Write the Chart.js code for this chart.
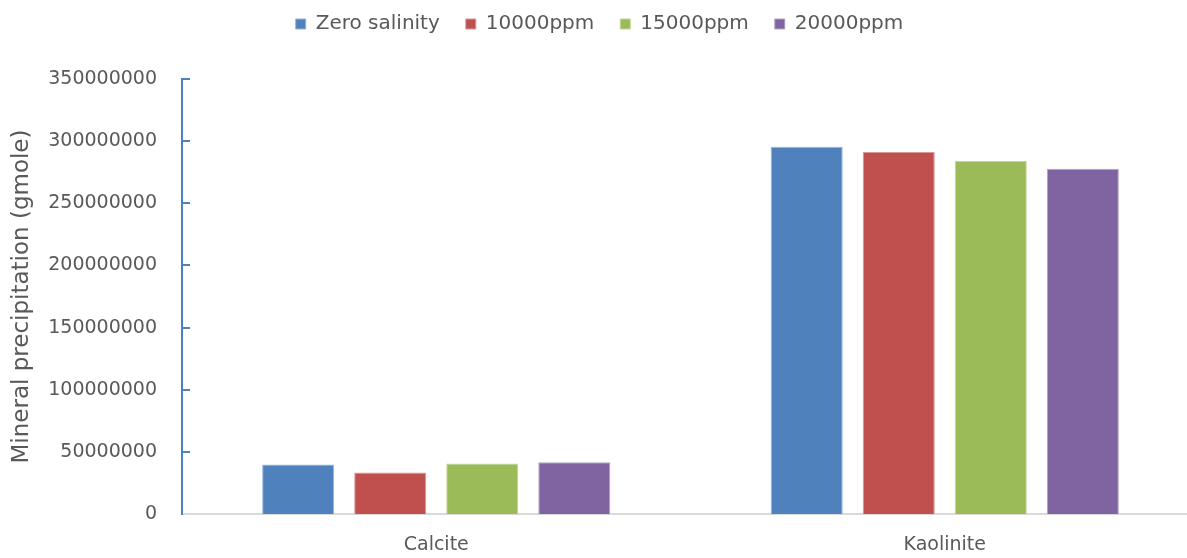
<!DOCTYPE html>
<html>
<head>
<meta charset="utf-8">
<script src="https://cdn.jsdelivr.net/npm/chart.js@4.4.1/dist/chart.umd.min.js"></script>
<style>
  html, body { margin: 0; padding: 0; overflow: hidden; background: #ffffff; }
  #wrap { width: 1200px; height: 558px; position: relative; }
</style>
</head>
<body>
<div id="wrap"><canvas id="c"></canvas></div>
<script>
// Minerals on the category axis
const categories = ['Calcite', 'Kaolinite'];

// Mineral precipitation (gmole) per salinity case
const zeroSalinity = [39800000, 295500000];
const ppm10000 = [33400000, 291300000];
const ppm15000 = [40600000, 284100000];
const ppm20000 = [41600000, 277700000];

const seriesNames = ['Zero salinity', '10000ppm', '15000ppm', '20000ppm'];
const seriesValues = [zeroSalinity, ppm10000, ppm15000, ppm20000];
const seriesFill = ['#4F81BD', '#C0504D', '#9BBB59', '#8064A2'];
const seriesEdge = ['#95B3D7', '#D99694', '#C3D69B', '#B3A2C7'];

// Y axis tick values
const yTicks = [0, 50000000, 100000000, 150000000, 200000000, 250000000, 300000000, 350000000];

const TEXT = '#595959';
const FONT = 'DejaVu Sans';

// extra space between the legend row and the plot
const legendGap = {
  id: 'legendGap',
  beforeInit(chart) {
    const lg = chart.legend;
    if (!lg) return;
    const fit = lg.fit;
    lg.fit = function () {
      fit.call(this);
      this.height += 35;
    };
  }
};

// short tick marks pointing into the plot from the value axis
const innerTicks = {
  id: 'innerTicks',
  afterDraw(chart) {
    const y = chart.scales.y;
    const ctx = chart.ctx;
    ctx.save();
    ctx.strokeStyle = '#4F81BD';
    ctx.lineWidth = 2;
    yTicks.forEach(v => {
      if (v === 0) return;
      const py = Math.round(y.getPixelForValue(v));
      ctx.beginPath();
      ctx.moveTo(y.right, py);
      ctx.lineTo(y.right + 8, py);
      ctx.stroke();
    });
    ctx.restore();
  }
};

new Chart(document.getElementById('c'), {
  type: 'bar',
  data: {
    labels: categories,
    datasets: seriesNames.map((name, i) => ({
      label: name,
      data: seriesValues[i],
      backgroundColor: seriesFill[i],
      borderColor: seriesEdge[i],
      borderWidth: 1,
      categoryPercentage: 0.724,
      barPercentage: 0.783
    }))
  },
  options: {
    responsive: true,
    maintainAspectRatio: false,
    animation: false,
    layout: { padding: { top: -12, left: 0, right: 1, bottom: 0 } },
    plugins: {
      legend: {
        position: 'top',
        labels: {
          color: TEXT,
          font: { family: FONT, size: 20 },
          boxWidth: 10,
          boxHeight: 10,
          padding: 26
        }
      },
      tooltip: { enabled: false }
    },
    scales: {
      x: {
        grid: { display: false, drawTicks: false },
        border: { color: '#D9D9D9', width: 2 },
        ticks: {
          color: TEXT,
          font: { family: FONT, size: 19 },
          padding: 20
        },
        afterFit(scale) { scale.height = 44; }
      },
      y: {
        min: 0,
        max: 350000000,
        afterBuildTicks(scale) { scale.ticks = yTicks.map(v => ({ value: v })); },
        grid: { display: false, drawTicks: false },
        border: { color: '#4F81BD', width: 2 },
        ticks: {
          color: TEXT,
          font: { family: FONT, size: 19 },
          padding: 25,
          callback: v => String(v)
        },
        title: {
          display: true,
          text: 'Mineral precipitation (gmole)',
          color: TEXT,
          font: { family: FONT, size: 23 },
          padding: { top: 8, bottom: 0 }
        },
        afterFit(scale) { scale.width = 182; }
      }
    }
  },
  plugins: [legendGap, innerTicks]
});
</script>
</body>
</html>
